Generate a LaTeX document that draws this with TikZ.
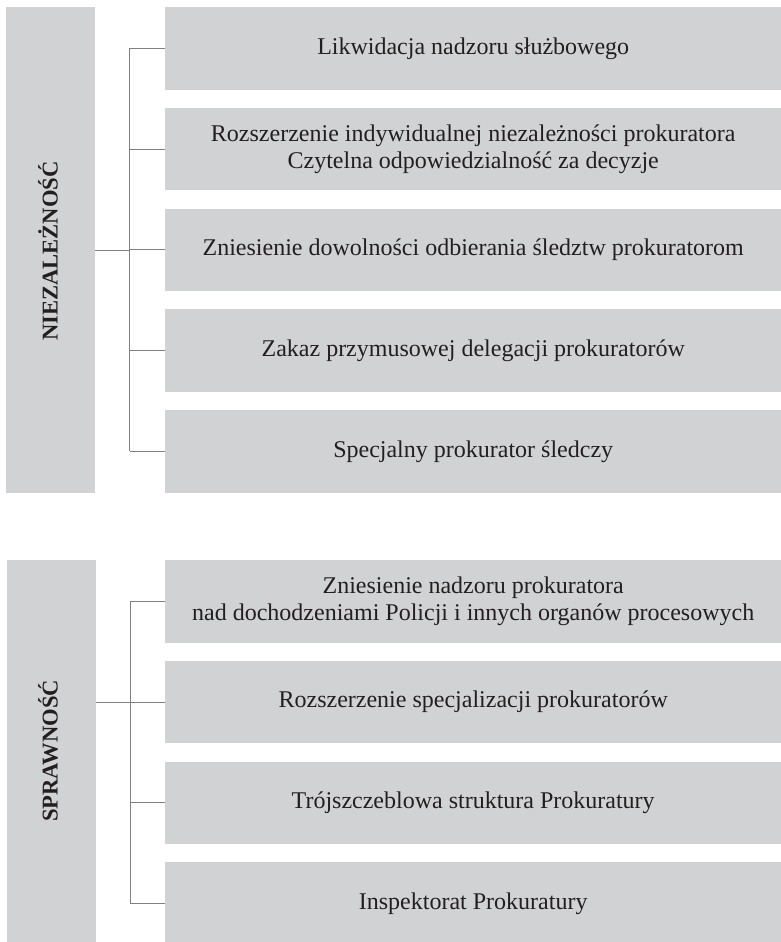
\documentclass[tikz,border=0pt]{standalone}
\usepackage{fontspec}
\setmainfont{Liberation Serif}
\definecolor{boxgray}{HTML}{D1D2D4}
\definecolor{linegray}{HTML}{808080}
\definecolor{txt}{HTML}{231F20}
\begin{document}
\begin{tikzpicture}[x=1pt,y=-1pt,
  itembox/.style={fill=boxgray,draw=none,minimum width=616pt,minimum height=82.5pt,
    anchor=north west,inner sep=0pt,align=center,text=txt,font=\fontsize{24}{27.5}\selectfont},
  sidebar/.style={fill=boxgray,draw=none,minimum width=89pt,anchor=north west,inner sep=0pt},
  sidelabel/.style={rotate=90,font=\bfseries\fontsize{22.6}{26}\selectfont,text=txt},
  conn/.style={draw=linegray,line width=1pt}]
\useasboundingbox (0,0) rectangle (781,942);
% group 1
\node[sidebar,minimum height=486pt] (bar1) at (6,7) {};
\node[sidelabel] (lab1) at (48,251) {NIEZALEŻNOŚĆ};
\node[itembox] (a1) at (165,7) {Likwidacja nadzoru służbowego};
\node[itembox] (a2) at (165,107.75) {Rozszerzenie indywidualnej niezależności prokuratora\\Czytelna odpowiedzialność za decyzje};
\node[itembox] (a3) at (165,208.5) {Zniesienie dowolności odbierania śledztw prokuratorom};
\node[itembox] (a4) at (165,309.25) {Zakaz przymusowej delegacji prokuratorów};
\node[itembox] (a5) at (165,410) {Specjalny prokurator śledczy};
\coordinate (v1t) at (129.5,0 |- a1.west);
\coordinate (v1b) at (129.5,0 |- a5.west);
\coordinate (v1m) at (129.5,0 |- bar1.east);
\draw[conn] (v1t) -- (v1b);
\draw[conn] (bar1.east) -- (v1m);
\foreach \n in {a1,a2,a3,a4,a5}{\draw[conn] (129.5,0 |- \n.west) -- (\n.west);}
% group 2
\node[sidebar,minimum height=382pt] (bar2) at (7,560) {};
\node[sidelabel] (lab2) at (48,751) {SPRAWNOŚĆ};
\node[itembox] (b1) at (165,560) {Zniesienie nadzoru prokuratora\\nad dochodzeniami Policji i innych organów procesowych};
\node[itembox] (b2) at (165,660.75) {Rozszerzenie specjalizacji prokuratorów};
\node[itembox] (b3) at (165,761.5) {Trójszczeblowa struktura Prokuratury};
\node[itembox] (b4) at (165,862.25) {Inspektorat Prokuratury};
\coordinate (v2t) at (130,0 |- b1.west);
\coordinate (v2b) at (130,0 |- b4.west);
\coordinate (v2m) at (130,0 |- b2.west);
\draw[conn] (v2t) -- (v2b);
\draw[conn] (bar2.east |- b2.west) -- (v2m);
\foreach \n in {b1,b2,b3,b4}{\draw[conn] (130,0 |- \n.west) -- (\n.west);}
\end{tikzpicture}
\end{document}
